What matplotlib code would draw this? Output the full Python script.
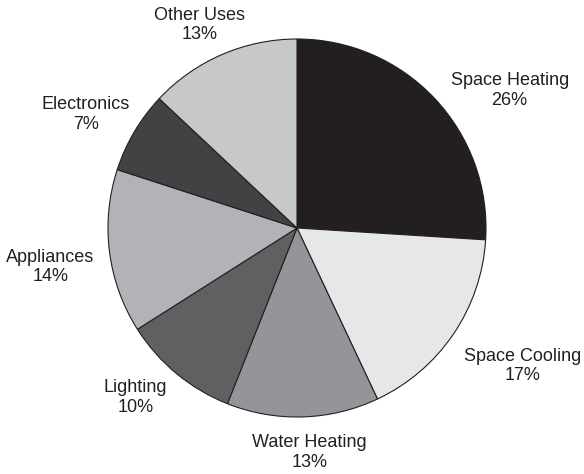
import numpy as np
import matplotlib.pyplot as plt

# Energy use shares
labels = ['Space Heating', 'Space Cooling', 'Water Heating', 'Lighting',
          'Appliances', 'Electronics', 'Other Uses']
shares = [26, 17, 13, 10, 14, 7, 13]
colors = ['#231f20', '#e6e7e8', '#939598', '#5f6062',
          '#b1b3b6', '#414244', '#c7c8ca']

# label placement: angle shift from wedge middle (deg) and distance (x radius)
label_shift = [-10.3, 2.8, 1.3, -4.0, 1.8, 2.3, 2.2]
label_dist = [1.34, 1.40, 1.19, 1.24, 1.32, 1.27, 1.19]

plt.rcParams['font.family'] = ['Liberation Sans', 'DejaVu Sans']

fig = plt.figure(figsize=(5.84, 4.74), dpi=100)
ax = fig.add_axes([0, 0, 1, 1])

cx, cy, r = 297, 246, 189
wedges, _ = ax.pie(shares, colors=colors,
                   startangle=90, counterclock=False,
                   center=(cx, cy), radius=r,
                   wedgeprops=dict(edgecolor='#231f20', linewidth=0.8))

for w, lab, s, da, d in zip(wedges, labels, shares, label_shift, label_dist):
    ang = np.deg2rad((w.theta1 + w.theta2) / 2 + da)
    ax.text(cx + d * r * np.cos(ang), cy + d * r * np.sin(ang),
            f'{lab}\n{s}%', ha='center', va='center',
            fontsize=13, color='#231f20', linespacing=1.2)

ax.set_xlim(0, 584)
ax.set_ylim(0, 474)
ax.set_aspect('equal')
ax.axis('off')

plt.savefig('out.png', dpi=100)
